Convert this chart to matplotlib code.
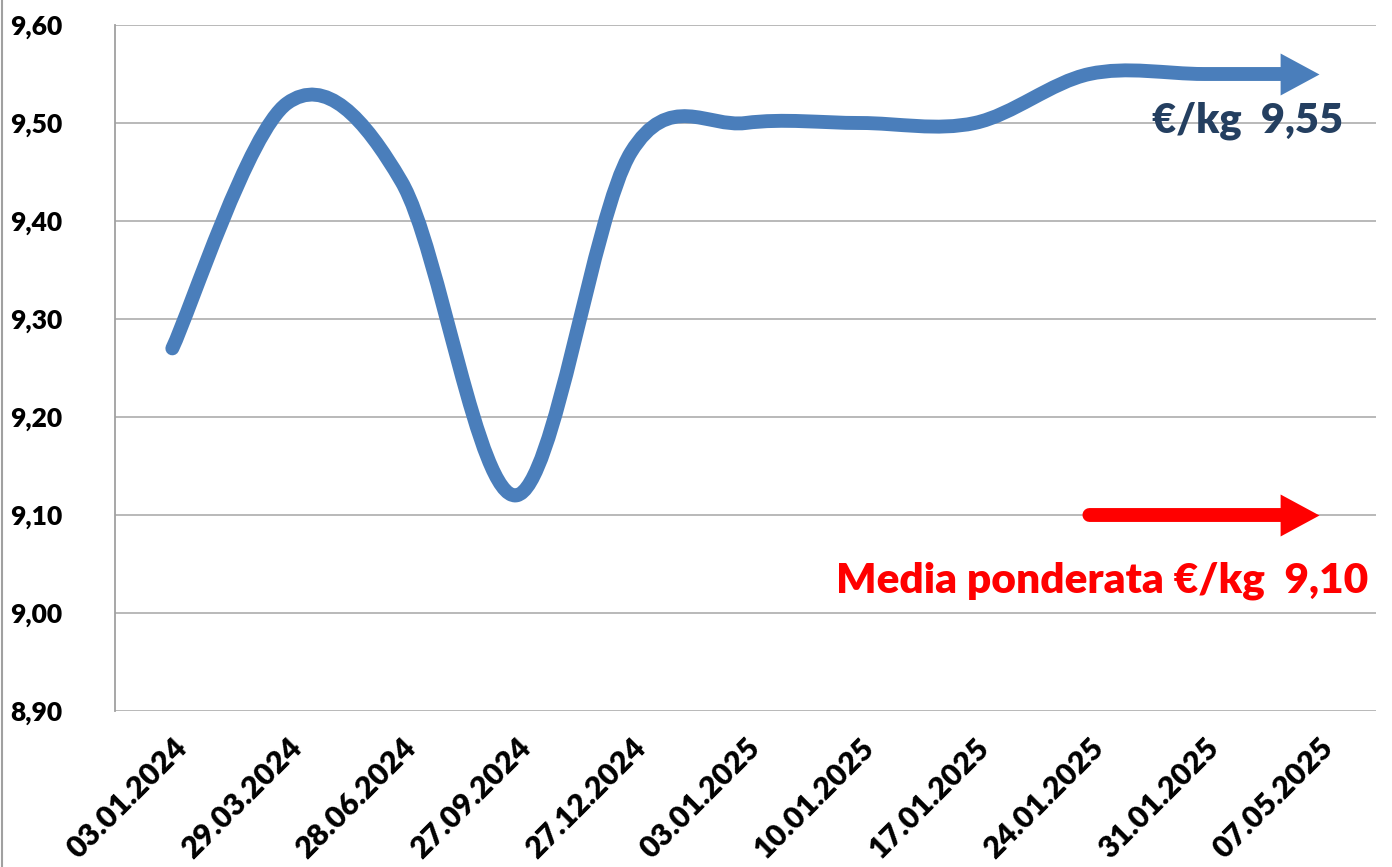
import matplotlib
matplotlib.use("Agg")
import matplotlib.pyplot as plt
from matplotlib.path import Path
from matplotlib.patches import PathPatch, Rectangle
from matplotlib.transforms import offset_copy
from matplotlib.lines import Line2D

# ---------------- data ----------------
categories = ["03.01.2024", "29.03.2024", "28.06.2024", "27.09.2024", "27.12.2024",
              "03.01.2025", "10.01.2025", "17.01.2025", "24.01.2025", "31.01.2025",
              "07.05.2025"]
prezzo = [9.27, 9.52, 9.44, 9.12, 9.47, 9.50, 9.50, 9.50, 9.55, 9.55, 9.55]
media_cat = ["24.01.2025", "31.01.2025", "07.05.2025"]
media = [9.10, 9.10, 9.10]
yticks = [8.90, 9.00, 9.10, 9.20, 9.30, 9.40, 9.50, 9.60]
label_prezzo = "€/kg  9,55"
label_media = "Media ponderata €/kg  9,10"

FONT = ["Lato", "DejaVu Sans"]
BLUE = "#4A7EBB"
DARK = "#243F60"
RED = "#FF0000"

fig = plt.figure(figsize=(13.92, 8.67), dpi=100)
fig.patch.set_facecolor("white")
ax = fig.add_axes([115/1392, 1-711/867, (1376-115)/1392, (711-25)/867])

ax.set_xlim(-0.5, len(categories)-0.5)
ax.set_ylim(yticks[0], yticks[-1])


def smooth_path(xs, ys):
    n = len(xs)
    verts = [(xs[0], ys[0])]
    codes = [Path.MOVETO]
    for i in range(n-1):
        a = i-1 if i > 0 else i
        d = i+2 if i+2 < n else i+1
        c1 = (xs[i] + (xs[i+1]-xs[a])/6, ys[i] + (ys[i+1]-ys[a])/6)
        c2 = (xs[i+1] - (xs[d]-xs[i])/6, ys[i+1] - (ys[d]-ys[i])/6)
        verts += [c1, c2, (xs[i+1], ys[i+1])]
        codes += [Path.CURVE4]*3
    return Path(verts, codes)

LW = 10           # points
HEAD_LEN = 28     # points
head_marker = Path([(-1, -0.54), (0, 0), (-1, 0.54), (-1, -0.54)],
                   [Path.MOVETO, Path.LINETO, Path.LINETO, Path.CLOSEPOLY])


def arrow_series(xs, ys, color):
    p = PathPatch(smooth_path(xs, ys), facecolor="none", edgecolor=color,
                  lw=LW, capstyle="round", joinstyle="round", zorder=4)
    ax.add_patch(p)
    tr = offset_copy(ax.transData, fig=fig, x=-HEAD_LEN+1, y=0, units="points")
    clip = Rectangle((-2, 8.0), xs[-1]+2, 2.0, transform=tr)
    p.set_clip_path(clip)
    ax.plot([xs[-1]], [ys[-1]], marker=head_marker, ms=2*HEAD_LEN, color=color,
            mew=0, clip_on=False, zorder=5, linestyle="none")

x_main = list(range(len(categories)))
arrow_series(x_main, prezzo, BLUE)
x_media = [categories.index(c) for c in media_cat]
arrow_series(x_media, media, RED)

# axes styling
ax.set_yticks(yticks)
ax.set_yticklabels([f"{v:.2f}".replace(".", ",") for v in yticks],
                   fontfamily=FONT, fontweight="heavy", fontsize=19)
ax.set_xticks(x_main)
ax.set_xticklabels(categories, rotation=45, ha="right", va="top",
                   rotation_mode="anchor", fontfamily=FONT,
                   fontweight="heavy", fontsize=22)
ax.tick_params(axis="y", length=0, pad=38)
ax.tick_params(axis="x", length=0, pad=16)
ax.grid(axis="y", color="#B3B3B3", lw=1.3)
ax.set_axisbelow(True)
for s in ["top", "right"]:
    ax.spines[s].set_visible(False)
ax.spines["bottom"].set_visible(False)
ax.spines["left"].set_color("#A0A0A0")
ax.spines["left"].set_linewidth(1.3)

ax.text(0.8985, 0.860, label_prezzo, transform=ax.transAxes, ha="center",
        va="center", color=DARK, fontfamily=FONT, fontweight="heavy", fontsize=30)
ax.text(0.7831, 0.190, label_media, transform=ax.transAxes, ha="center",
        va="center", color=RED, fontfamily=FONT, fontweight="heavy", fontsize=30.5)

fig.add_artist(Line2D([2/1392, 2/1392], [0, 1], color="#A0A0A0", lw=1.5,
                      transform=fig.transFigure))

fig.savefig("out.png", dpi=100)
